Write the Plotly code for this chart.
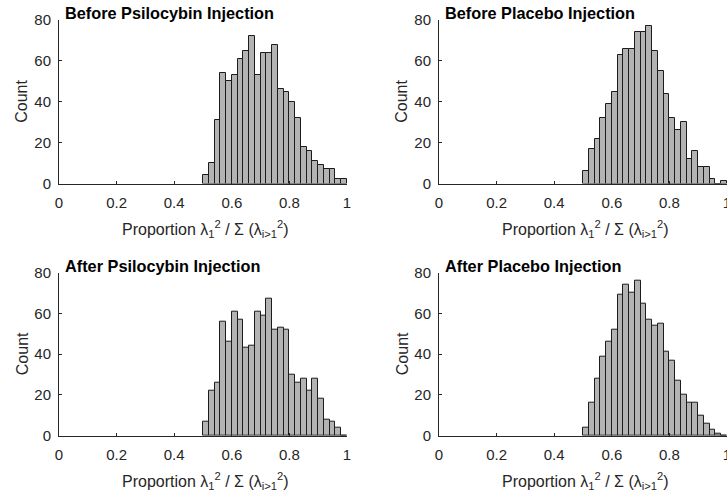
import plotly.graph_objects as go

# ---- data ----
bin_centers = [0.51, 0.53, 0.55, 0.57, 0.59, 0.61, 0.63, 0.65, 0.67, 0.69,
               0.71, 0.73, 0.75, 0.77, 0.79, 0.81, 0.83, 0.85, 0.87, 0.89,
               0.91, 0.93, 0.95, 0.97, 0.99]
bin_width = 0.02

before_psilocybin = [4, 10, 31, 54, 50, 53, 61, 65, 72, 53, 64, 64, 68, 46, 45,
                     40, 32, 18, 16, 11, 9, 7, 7, 2, 2]
before_placebo = [6, 17, 22, 32, 39, 45, 63, 66, 66, 74, 74, 77, 65, 55, 44,
                  32, 26, 30, 12, 16, 8, 8, 2, 0, 1]
after_psilocybin = [7, 22, 26, 56, 46, 61, 57, 43, 44, 61, 59, 67, 52, 53, 52,
                    30, 26, 28, 22, 28, 18, 8, 7, 4, 0]
after_placebo = [4, 16, 28, 39, 46, 52, 69, 74, 70, 76, 65, 57, 54, 55, 41,
                 37, 27, 20, 16, 16, 10, 6, 3, 1, 0]

titles = ["Before Psilocybin Injection", "Before Placebo Injection",
          "After Psilocybin Injection", "After Placebo Injection"]
series = [before_psilocybin, before_placebo, after_psilocybin, after_placebo]

x_ticks = [0, 0.2, 0.4, 0.6, 0.8, 1]
x_ticktext = ["0", "0.2", "0.4", "0.6", "0.8", "1"]
y_ticks = [0, 20, 40, 60, 80]

x_title = "Proportion λ<sub>1</sub><sup>2</sup> / Σ (λ<sub>i&gt;1</sub><sup>2</sup>)"
y_title = "Count"

# ---- layout geometry (pixels in a 727x499 page) ----
W, H = 727, 499
FONT = "Liberation Sans, Arial, Helvetica, sans-serif"
AX = "#262626"

# (left px, right px, top px, bottom px)
boxes = [(59, 347, 20, 183.5), (439, 727, 20, 183.5),
         (59, 347, 272.7, 435.7), (439, 727, 272.7, 435.7)]

fig = go.Figure()
annotations = []
for i, (vals, title, (l, r, t, b)) in enumerate(zip(series, titles, boxes)):
    n = "" if i == 0 else str(i + 1)
    fig.add_trace(go.Bar(
        x=bin_centers, y=vals, width=bin_width,
        marker=dict(color="#b3b3b3", line=dict(color="#1c1c1c", width=1)),
        xaxis="x" + n, yaxis="y" + n, showlegend=False,
        hovertemplate="%{x}: %{y}<extra></extra>"))
    common = dict(showline=True, linecolor=AX, linewidth=1, ticks="inside",
                  ticklen=3, tickcolor=AX, tickwidth=1, showgrid=False,
                  zeroline=False, mirror=False, automargin=False,
                  ticklabeloverflow="allow",
                  tickfont=dict(family=FONT, size=15, color=AX))
    fig.layout["xaxis" + n] = dict(
        domain=[l / W, r / W], anchor="y" + n, range=[0, 1],
        tickvals=x_ticks, ticktext=x_ticktext, ticklabelstandoff=5, **common)
    fig.layout["yaxis" + n] = dict(
        domain=[1 - b / H, 1 - t / H], anchor="x" + n, range=[0, 80],
        tickvals=y_ticks, ticklabelstandoff=4, **common)
    annotations.append(dict(
        text="<b>" + title + "</b>", x=(l + 4) / W, y=1 - (t - 7) / H,
        xref="paper", yref="paper", xanchor="left", yanchor="middle",
        showarrow=False, font=dict(family=FONT, size=16.3, color="#000000")))
    annotations.append(dict(
        text=y_title, x=(l - 37) / W, y=1 - ((t + b) / 2) / H,
        xref="paper", yref="paper", xanchor="center", yanchor="middle",
        textangle=-90, showarrow=False,
        font=dict(family=FONT, size=16, color=AX)))
    annotations.append(dict(
        text=x_title, x=((l + r) / 2 + 2) / W, y=1 - (b + 45) / H,
        xref="paper", yref="paper", xanchor="center", yanchor="middle",
        showarrow=False, font=dict(family=FONT, size=16, color=AX)))

fig.update_layout(
    width=W, height=H, autosize=False, margin=dict(l=0, r=0, t=0, b=0, pad=0),
    paper_bgcolor="white", plot_bgcolor="white", bargap=0,
    annotations=annotations)

fig.write_html("out.html", config={"displayModeBar": False},
               post_script="document.body.style.margin='0px';")
